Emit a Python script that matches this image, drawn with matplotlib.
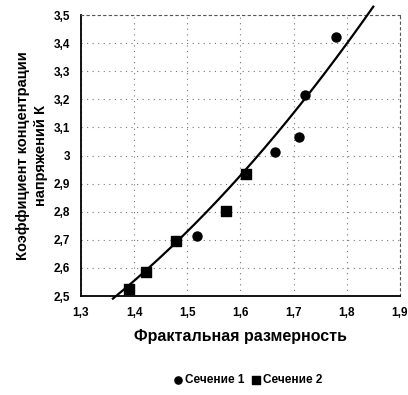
import matplotlib
matplotlib.use("Agg")
import matplotlib.pyplot as plt
import numpy as np

plt.rcParams['font.family'] = ['Liberation Sans', 'DejaVu Sans']

# Сечение 1 (circles)
x1 = [1.519, 1.666, 1.711, 1.722, 1.780]
y1 = [2.714, 3.012, 3.066, 3.215, 3.420]
# Сечение 2 (squares)
x2 = [1.390, 1.422, 1.478, 1.572, 1.610]
y2 = [2.525, 2.585, 2.696, 2.802, 2.934]

# trend line
xtr = [1.36, 1.40, 1.50, 1.60, 1.70, 1.80, 1.85]
ytr = [2.49, 2.557, 2.73, 2.92, 3.155, 3.41, 3.52]

xticks = [1.3, 1.4, 1.5, 1.6, 1.7, 1.8, 1.9]
yticks = [2.5, 2.6, 2.7, 2.8, 2.9, 3.0, 3.1, 3.2, 3.3, 3.4, 3.5]
xlabels = ["1,3", "1,4", "1,5", "1,6", "1,7", "1,8", "1,9"]
ylabels = ["2,5", "2,6", "2,7", "2,8", "2,9", "3", "3,1", "3,2", "3,3", "3,4", "3,5"]

fig = plt.figure(figsize=(4.08, 3.95), dpi=100)
ax = fig.add_axes([0.1985, 0.2506, 0.7815, 0.7114])

# smooth polynomial trend (excel-like) through the read points
coef = np.polyfit(xtr, ytr, 2)
xt = np.linspace(xtr[0], xtr[-1], 200)
ax.plot(xt, np.polyval(coef, xt), color="black", lw=1.6, zorder=3, clip_on=False)

ax.scatter(x1, y1, marker="o", s=42, color="black", zorder=4, label="Сечение 1")
ax.scatter(x2, y2, marker="s", s=42, color="black", zorder=4, label="Сечение 2")

ax.set_xlim(1.3, 1.9)
ax.set_ylim(2.5, 3.5)
ax.set_xticks(xticks)
ax.set_xticklabels(xlabels, fontsize=8.5, fontweight="bold")
ax.set_yticks(yticks)
ax.set_yticklabels(ylabels, fontsize=8.5, fontweight="bold")
ax.tick_params(length=0, pad=8)
ax.grid(True, color="#777777", ls=(0, (1, 4)), lw=0.8)

for s in ["left", "bottom"]:
    ax.spines[s].set_linewidth(1.3)
for s in ["top", "right"]:
    ax.spines[s].set_linestyle((0, (2, 3)))
    ax.spines[s].set_color("#555555")

ax.set_xlabel("Фрактальная размерность", fontsize=11.5, fontweight="bold", labelpad=7)
ax.yaxis.set_label_coords(-0.105, 0.47)
ax.set_ylabel("Коэффициент концентрации\nнапряжений К", fontsize=10.5,
              fontweight="bold", linespacing=1.35)

fig.legend(loc="center", bbox_to_anchor=(0.606, 0.038), ncol=2, frameon=False,
           handletextpad=0.15, columnspacing=0.4, handlelength=1,
           markerscale=0.8, prop={"weight": "bold", "size": 8.5})

fig.savefig("out.png", dpi=100)
